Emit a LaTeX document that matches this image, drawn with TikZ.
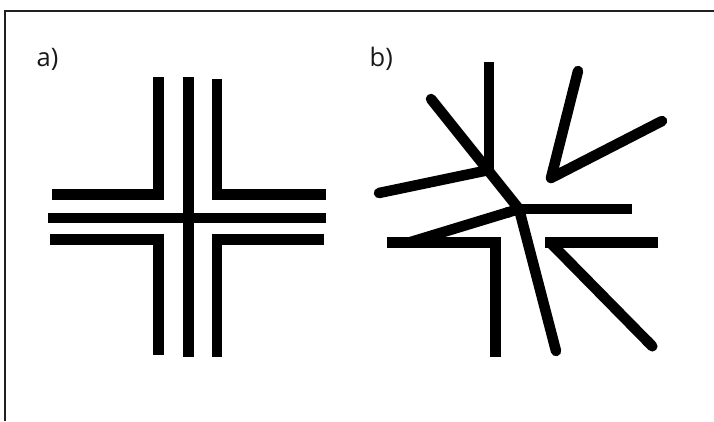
\documentclass[tikz,border=0pt]{standalone}
\usepackage{fontspec}
\setsansfont{Open Sans}
\usepackage{xcolor}
\definecolor{frameGray}{HTML}{202020}
\usepackage{tikz}
\usetikzlibrary{arrows.meta}

\begin{document}
\begin{tikzpicture}[
        x=1pt, y=-1pt,
        frameLine/.style={
            draw=frameGray,
            line width=1.3pt
        },
        barLine/.style={
            line width=10.5pt,
            line cap=butt,
            line join=miter
        },
        rodLine/.style={
            line width=10.5pt,
            line cap=round,
            line join=round
        },
        panelLabel/.style={
            anchor=base west,
            inner sep=0pt,
            text=black!90,
            font=\sffamily\fontsize{25.5}{30}\selectfont
        }
    ]
    \useasboundingbox (0,0) rectangle (714,421);

    % Frame (top and left edge only)
    \draw[frameLine] (5,421) -- (5,11) -- (714,11);

    % Labels
    \node[panelLabel] (labelA) at (36.5,66) {a)};
    \node[panelLabel] (labelB) at (369.5,66) {b)};

    % Panel a
    \draw[barLine] (158.5,77) -- (158.5,194.5) -- (52,194.5);
    \draw[barLine] (188.5,77) -- (188.5,357);
    \draw[barLine] (217,79) -- (217,194.5) -- (326,194.5);
    \draw[barLine] (48,218) -- (326,218);
    \draw[barLine] (50,239.5) -- (158.5,239.5) -- (158.5,355);
    \draw[barLine] (324,239.5) -- (217,239.5) -- (217,357);

    % Panel b
    \coordinate (jTop) at (489,170);
    \coordinate (jMid) at (519,209);
    \draw[barLine] (489,62) -- (jTop);
    \draw[rodLine] (431,99) -- (jMid) -- (556,351);
    \draw[rodLine] (379,193) -- (jTop);
    \draw[barLine] (jMid) -- (632,209);
    \draw[barLine, {Round Cap}-] (jMid) -- (409,242.5);
    \draw[barLine] (387,242.3) -- (495.7,242.3) -- (495.7,357);
    \draw[barLine] (545,242.3) -- (658,242.3);
    \draw[barLine, -{Round Cap}] (550,242.3) -- (656,350);
    \draw[rodLine] (578,71) -- (551,178) -- (662,121);
    \end{tikzpicture}
\end{document}
